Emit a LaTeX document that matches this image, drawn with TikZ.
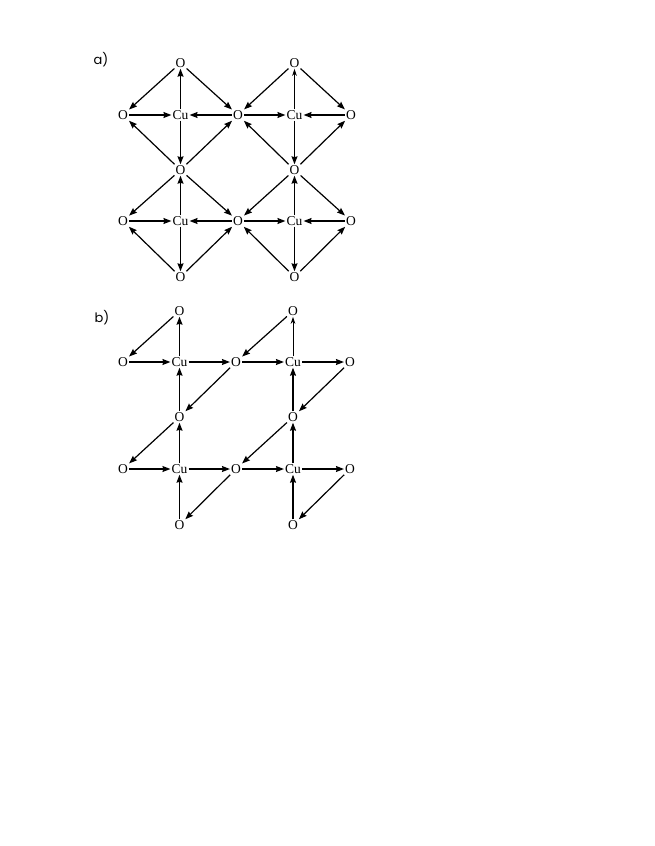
\documentclass[tikz,border=0pt]{standalone}
\usepackage{fontspec}
\setmainfont{Liberation Serif}
\newfontfamily\partfont{Poppins}
\usetikzlibrary{arrows.meta}

\tikzset{
    atom/.style={inner sep=1pt, font=\fontsize{13.5}{13.5}\selectfont},
    bond/.style={line width=1.2pt, -{Stealth[length=8pt,width=6pt,inset=1pt]}},
    thinbond/.style={line width=0.8pt, -{Stealth[length=7pt,width=4.5pt,inset=2pt]}},
    part/.style={font=\partfont\fontsize{13}{13}\selectfont}
}

\begin{document}
\begin{tikzpicture}[x=1pt,y=-1pt]
    \useasboundingbox (0,0) rectangle (654,846);

    % Part labels
    \node[part] (la) at (101,60) {a)};
    \node[part] (lb) at (102,318) {b)};

    % a) Cu atoms
    \node[atom] (aCu11) at (180.5,115) {Cu};
    \node[atom] (aCu31) at (294.5,115) {Cu};
    \node[atom] (aCu13) at (180.5,221) {Cu};
    \node[atom] (aCu33) at (294.5,221) {Cu};

    % a) O atoms
    \node[atom] (aO10) at (180.5,63) {O};
    \node[atom] (aO30) at (294.5,63) {O};
    \node[atom] (aO01) at (123,115) {O};
    \node[atom] (aO21) at (238,115) {O};
    \node[atom] (aO41) at (351,115) {O};
    \node[atom] (aO12) at (180.5,170) {O};
    \node[atom] (aO32) at (294.5,170) {O};
    \node[atom] (aO03) at (123,221) {O};
    \node[atom] (aO23) at (238,221) {O};
    \node[atom] (aO43) at (351,221) {O};
    \node[atom] (aO14) at (180.5,277) {O};
    \node[atom] (aO34) at (294.5,277) {O};

    % a) upper left cell
    \draw[bond] (aO01) -- (aCu11);
    \draw[bond] (aO21) -- (aCu11);
    \draw[bond] (aCu11) -- (aO10);
    \draw[bond] (aCu11) -- (aO12);
    \draw[bond] (aO10) -- (aO01);
    \draw[bond] (aO10) -- (aO21);
    \draw[bond] (aO12) -- (aO01);
    \draw[bond] (aO12) -- (aO21);

    % a) upper right cell
    \draw[bond] (aO21) -- (aCu31);
    \draw[bond] (aO41) -- (aCu31);
    \draw[thinbond] (aCu31) -- (aO30);
    \draw[bond] (aCu31) -- (aO32);
    \draw[bond] (aO30) -- (aO21);
    \draw[bond] (aO30) -- (aO41);
    \draw[bond] (aO32) -- (aO21);
    \draw[bond] (aO32) -- (aO41);

    % a) lower left cell
    \draw[bond] (aO03) -- (aCu13);
    \draw[bond] (aO23) -- (aCu13);
    \draw[bond] (aCu13) -- (aO12);
    \draw[bond] (aCu13) -- (aO14);
    \draw[bond] (aO12) -- (aO03);
    \draw[bond] (aO12) -- (aO23);
    \draw[bond] (aO14) -- (aO03);
    \draw[bond] (aO14) -- (aO23);

    % a) lower right cell
    \draw[bond] (aO23) -- (aCu33);
    \draw[bond] (aO43) -- (aCu33);
    \draw[bond] (aCu33) -- (aO32);
    \draw[bond] (aCu33) -- (aO34);
    \draw[bond] (aO32) -- (aO23);
    \draw[bond] (aO32) -- (aO43);
    \draw[bond] (aO34) -- (aO23);
    \draw[bond] (aO34) -- (aO43);

    % b) Cu atoms
    \node[atom] (bCu11) at (179.5,362) {Cu};
    \node[atom] (bCu31) at (293,362) {Cu};
    \node[atom] (bCu13) at (179.5,469) {Cu};
    \node[atom] (bCu33) at (293,469) {Cu};

    % b) O atoms
    \node[atom] (bO10) at (179.5,311) {O};
    \node[atom] (bO30) at (293,311) {O};
    \node[atom] (bO01) at (123,362) {O};
    \node[atom] (bO21) at (236,362) {O};
    \node[atom] (bO41) at (350,362) {O};
    \node[atom] (bO12) at (179.5,417) {O};
    \node[atom] (bO32) at (293,417) {O};
    \node[atom] (bO03) at (123,469) {O};
    \node[atom] (bO23) at (236,469) {O};
    \node[atom] (bO43) at (350,469) {O};
    \node[atom] (bO14) at (179.5,525) {O};
    \node[atom] (bO34) at (293,525) {O};

    % b) upper left cell
    \draw[bond] (bO10) -- (bO01);
    \draw[bond] (bCu11) -- (bO10);
    \draw[bond] (bO01) -- (bCu11);
    \draw[bond] (bCu11) -- (bO21);
    \draw[bond] (bO21) -- (bO12);
    \draw[bond] (bO12) -- (bCu11);

    % b) upper right cell
    \draw[bond] (bO30) -- (bO21);
    \draw[thinbond] (bCu31) -- (bO30);
    \draw[bond] (bO21) -- (bCu31);
    \draw[bond] (bCu31) -- (bO41);
    \draw[bond] (bO41) -- (bO32);
    \draw[bond] (bO32) -- (bCu31);

    % b) lower left cell
    \draw[bond] (bO12) -- (bO03);
    \draw[bond] (bCu13) -- (bO12);
    \draw[bond] (bO03) -- (bCu13);
    \draw[bond] (bCu13) -- (bO23);
    \draw[bond] (bO23) -- (bO14);
    \draw[bond] (bO14) -- (bCu13);

    % b) lower right cell
    \draw[bond] (bO32) -- (bO23);
    \draw[bond] (bCu33) -- (bO32);
    \draw[bond] (bO23) -- (bCu33);
    \draw[bond] (bCu33) -- (bO43);
    \draw[bond] (bO43) -- (bO34);
    \draw[bond] (bO34) -- (bCu33);
\end{tikzpicture}
\end{document}
